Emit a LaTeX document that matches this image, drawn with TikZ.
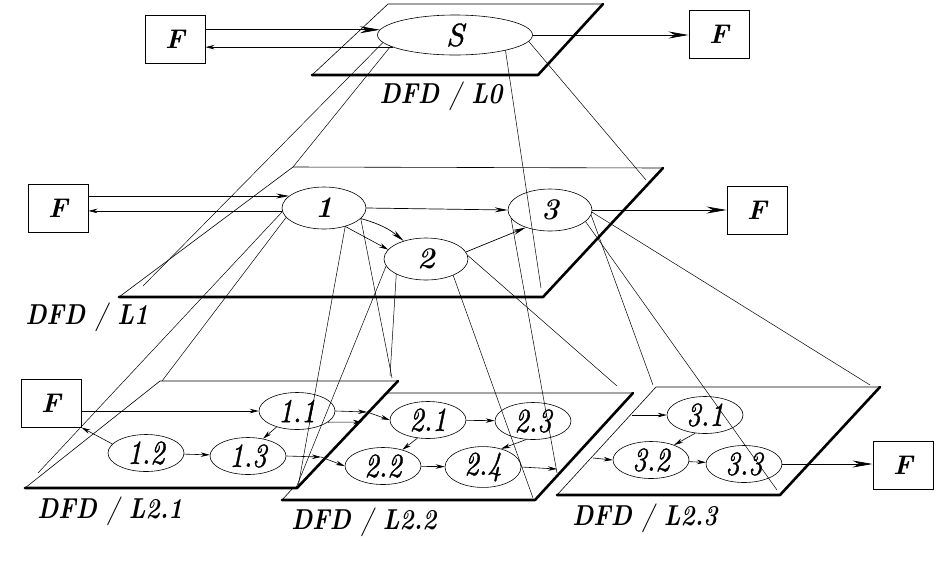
\documentclass[tikz,border=0pt]{standalone}
\usepackage{fontspec}
\setmainfont{lmroman10}[Extension=.otf, UprightFont=*-regular, ItalicFont=*-italic,
    BoldFont=*-bold, BoldItalicFont=*-bolditalic] % one design size, scaled up like the scan
\usepackage{graphicx}
\usetikzlibrary{shapes.geometric, arrows.meta}
\newcommand{\tall}[1]{\scalebox{1}[1.2]{#1}} % the scan's letters are drawn tall
\tikzset{
    proc/.style={ellipse, draw, line width=.6pt, inner sep=0pt}, % a process bubble
    topproc/.style={proc, minimum width=155pt, minimum height=40pt, font=\fontsize{32}{32}\selectfont\itshape\addfontfeature{FakeBold=1}},
    midproc/.style={proc, minimum width=84pt, minimum height=42pt, font=\fontsize{30}{30}\selectfont\bfseries\itshape},
    subproc/.style={proc, minimum width=76pt, minimum height=37pt, font=\fontsize{28}{28}\selectfont\itshape\addfontfeature{FakeBold=1.2}},
    ext/.style={draw, line width=1pt, minimum width=60pt, minimum height=48pt, inner sep=0pt, font=\fontsize{27}{27}\selectfont\bfseries\itshape}, % external entity
    plane/.style={draw, fill=white, line width=.6pt},
    rim/.style={line width=2.6pt, line cap=round, line join=round}, % heavy front edges
    proj/.style={line width=.5pt}, % thin lines between the levels
    flow/.style={-{Stealth[length=9pt,width=4.5pt]}, line width=.6pt},
    bigflow/.style={-{Stealth[length=13pt,width=5pt]}, line width=.7pt},
    extflow/.style={-{Stealth[length=20pt,width=7pt]}, line width=.7pt},
    lvl/.style={font=\fontsize{24}{24}\selectfont\bfseries\itshape},
}

\begin{document}
\begin{tikzpicture}[x=1pt, y=-1pt]
\useasboundingbox (0,0) rectangle (950,566);

% planes, from back to front
\foreach \p/\bl/\br/\tr/\tl in {L0/{312,75}/{538,75}/{603,4}/{388,4},
        L1/{119,297}/{543,297}/{663,168}/{293,167},
        L23/{557,495}/{780,495}/{880,387}/{656,387},
        L22/{282,500}/{535,500}/{633,393}/{380,393},
        L21/{25,488}/{297,488}/{398,381}/{160,381}} {
    \coordinate (\p bl) at (\bl);
    \coordinate (\p br) at (\br);
    \coordinate (\p tr) at (\tr);
    \coordinate (\p tl) at (\tl);
    \draw[plane] (\p bl) -- (\p br) -- (\p tr) -- (\p tl) -- cycle;
    \draw[rim] (\p bl) -- (\p br) -- (\p tr);
}

% level 0
\node[ext] (F0a) at (175,39) {F};
\node[topproc] (S) at (455,35) {S};
\node[ext] (F0b) at (719,34) {F};
\node[lvl] (t0) at (441,96) {\tall{DFD {\mdseries/} L0}};

% level 1
\node[ext] (F1a) at (58,208) {F};
\node[midproc] (n1) at (324,208) {1};
\node[midproc] (n2) at (426,259) {2};
\node[midproc] (n3) at (550,210) {3};
\node[ext] (F1b) at (757,210) {F};
\node[lvl] (t1) at (87,317) {\tall{DFD {\mdseries/} L1}};

% level 2
\node[ext] (F2a) at (51,403) {F};
\node[subproc] (n11) at (297,411) {\tall{1.1}};
\node[subproc] (n12) at (146,453) {\tall{1.2}};
\node[subproc] (n13) at (248,456) {\tall{1.3}};
\node[subproc] (n21) at (428,420) {\tall{2.1}};
\node[subproc] (n22) at (383,466) {\tall{2.2}};
\node[subproc] (n23) at (533,421) {\tall{2.3}};
\node[subproc] (n24) at (483,467) {\tall{2.4}};
\node[subproc] (n31) at (705,415) {\tall{3.1}};
\node[subproc] (n32) at (651,460) {\tall{3.2}};
\node[subproc] (n33) at (744,464) {\tall{3.3}};
\node[ext] (F2b) at (903,465) {F};
\node[lvl] (t21) at (110,511) {\tall{DFD {\mdseries/} L2.1}};
\node[lvl] (t22) at (364,522) {\tall{DFD {\mdseries/} L2.2}};
\node[lvl] (t23) at (645,518) {\tall{DFD {\mdseries/} L2.3}};

% loose ends of the flows at the plane borders
\coordinate (b11) at (367,412);
\coordinate (c11) at (362,422);
\coordinate (b13) at (321,457);
\coordinate (b24) at (557,469);
\coordinate (i31) at (632,415);
\coordinate (i32) at (593,458);

% flows
\draw[extflow] (F0a.east |- S.176) -- (S.176);
\draw[flow] (S.191) -- (S.191 -| F0a.east);
\draw[extflow] (S.east) -- (S.east -| F0b.west);

\draw[bigflow] (F1a.east |- n1.161) -- (n1.161);
\draw[flow] (n1.184) -- (n1.184 -| F1a.east);
\draw[bigflow] (n1.east) -- (n3.west);
\draw[flow] (n1.319) -- (n2.166);
\draw[bigflow] (n1.344) to[bend left=12] (n2.141);
\draw[bigflow] (n2.10) -- (n3.216);
\draw[extflow] (n3.east) -- (n3.east -| F1b.west);

\draw[flow] (F2a.east |- n11.west) -- (n11.west);
\draw[flow] (n12.165) -- (F2a.south east);
\draw[flow] (n12) -- (n13);
\draw[flow] (n11.218) -- (n13.49);
\draw[flow] (n11.east) -- (b11);
\draw[flow] (b11) -- (n21.west);
\draw[flow] (n11.340) -- (c11);
\draw[flow] (n13.east) -- (b13);
\draw[flow] (b13) -- (n22.west);
\draw[flow] (n21) -- (n23);
\draw[flow] (n21.240) -- (n22.40);
\draw[flow] (n23.250) -- (n24.45);
\draw[flow] (n22) -- (n24);
\draw[flow] (n24.east) -- (b24);
\draw[flow] (i31) -- (n31.west);
\draw[flow] (i32) -- (n32.west);
\draw[flow] (n31.242) -- (n32.33);
\draw[flow] (n32) -- (n33);
\draw[extflow] (n33.east) -- (n33.east -| F2b.west);

% lines from each bubble down to the plane that refines it
\coordinate (p1) at (143,286);
\coordinate (p2) at (541,288);
\coordinate (p3) at (646,180);
\coordinate (p5) at (38,473);
\coordinate (p6) at (162,381);
\coordinate (p7) at (298,487);
\coordinate (p8) at (392,378);
\coordinate (p9) at (390,376);
\coordinate (p10) at (296,488);
\coordinate (p11) at (533,498);
\coordinate (p12) at (617,386);
\coordinate (p13) at (557,473);
\coordinate (p15) at (653,385);
\coordinate (p16) at (777,490);
\coordinate (p17) at (870,385);
\draw[proj] (S.186) -- (p1);
\draw[proj] (S.190) -- (L1tl);
\draw[proj] (S.343) -- (p2);
\draw[proj] (S.355) -- (p3);
\draw[proj] (n1.185) -- (p5);
\draw[proj] (n1.194) -- (p6);
\draw[proj] (n1.319) -- (p7);
\draw[proj] (n1.344) -- (p8);
\draw[proj] (n2.207) -- (p9);
\draw[proj] (n2.190) -- (p10);
\draw[proj] (n2.329) -- (p11);
\draw[proj] (n2.5) -- (p12);
\draw[proj] (n3.192) -- (p13);
\draw[proj] (n3.353) -- (p15);
\draw[proj] (n3.342) -- (p16);
\draw[proj] (n3.357) -- (p17);
\end{tikzpicture}
\end{document}
